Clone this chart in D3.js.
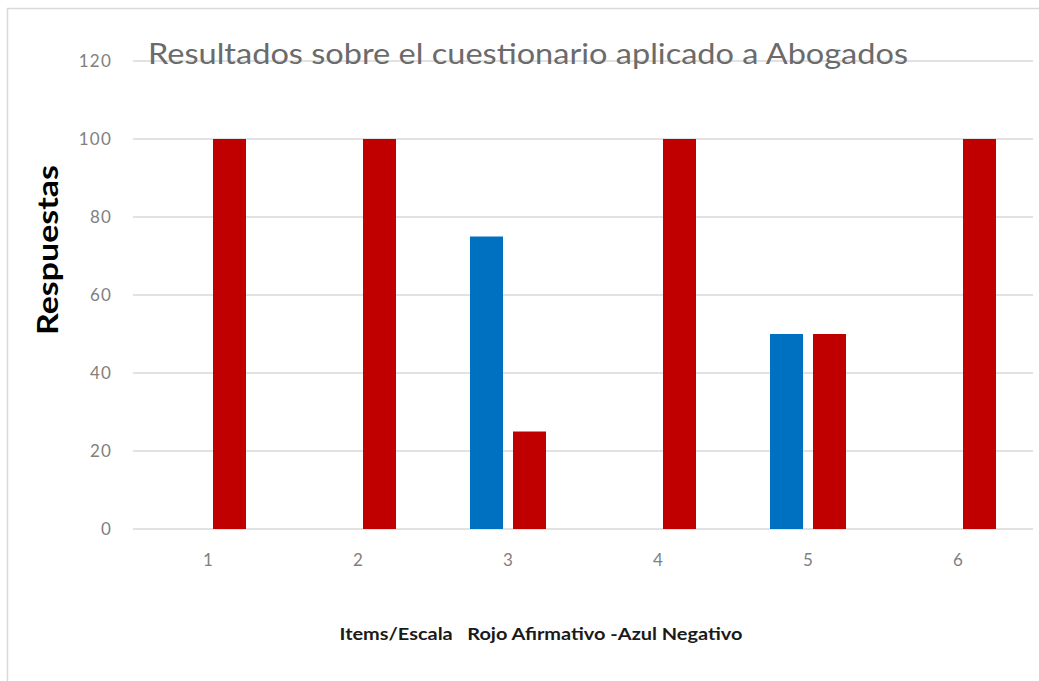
<!DOCTYPE html>
<html><head><meta charset="utf-8">
<script src="https://cdn.jsdelivr.net/npm/d3@7"></script>
<style>body{margin:0;background:#fff;} svg{display:block;}</style>
</head><body>
<svg id="chart" width="1039" height="681"></svg>
<script>
const categories = ["1","2","3","4","5","6"];
const negativoAzul = [0,0,75,0,50,0];
const afirmativoRojo = [100,100,25,100,50,100];
const yTicks = [0,20,40,60,80,100,120];
const titleText = "Resultados sobre el cuestionario aplicado a Abogados";
const yTitle = "Respuestas";
const xTitle = "Items/Escala   Rojo Afirmativo -Azul Negativo";

const svg = d3.select("#chart");
const m = {left:133, right:1033, top:61, bottom:529};

// frame
svg.append("path").attr("d","M7.5,681 V8.5 H1045").attr("fill","none").attr("stroke","#d9d9d9").attr("stroke-width",1.5);

const x = d3.scaleBand().domain(categories).range([m.left,m.right]);
const y = d3.scaleLinear().domain([0,120]).range([m.bottom,m.top]);

// gridlines
svg.append("g").selectAll("line").data(yTicks).join("line")
  .attr("x1",m.left).attr("x2",m.right)
  .attr("y1",d=>y(d)).attr("y2",d=>y(d))
  .attr("stroke","#d9d9d9").attr("stroke-width",1.3);

// y tick labels
const yAxis = d3.axisLeft(y).tickValues(yTicks).tickSize(0).tickPadding(21);
const gy = svg.append("g").attr("transform",`translate(${m.left},0)`).call(yAxis);
gy.select(".domain").remove();
gy.selectAll("text").attr("font-family","Lato, sans-serif").attr("font-size",17).attr("letter-spacing",1.2).attr("fill","#808080");

// x tick labels
const xAxis = d3.axisBottom(x).tickSize(0).tickPadding(25);
const gx = svg.append("g").attr("transform",`translate(0,${m.bottom})`).call(xAxis);
gx.select(".domain").remove();
gx.selectAll("text").attr("font-family","Lato, sans-serif").attr("font-size",17).attr("fill","#808080");

// bars
const bw = 33, gap = 10;
const rows = categories.map((c,i)=>({c, blue:negativoAzul[i], red:afirmativoRojo[i]}));
const cx = c => x(c) + x.bandwidth()/2;
svg.append("g").selectAll("rect").data(rows.filter(d=>d.blue>0)).join("rect")
  .attr("x",d=>cx(d.c)-gap/2-bw).attr("width",bw)
  .attr("y",d=>y(d.blue)).attr("height",d=>y(0)-y(d.blue))
  .attr("fill","#0070c0");
svg.append("g").selectAll("rect").data(rows.filter(d=>d.red>0)).join("rect")
  .attr("x",d=>cx(d.c)+gap/2).attr("width",bw)
  .attr("y",d=>y(d.red)).attr("height",d=>y(0)-y(d.red))
  .attr("fill","#c00000");

// title
svg.append("text").attr("x",148).attr("y",64).text(titleText)
  .attr("textLength",760).attr("lengthAdjust","spacingAndGlyphs")
  .attr("font-family","Lato, sans-serif").attr("font-size",29).attr("fill","#6b6b6b");

// y title
svg.append("text").attr("transform","translate(58,250) rotate(-90)").attr("text-anchor","middle")
  .attr("textLength",170).attr("lengthAdjust","spacingAndGlyphs")
  .text(yTitle).attr("font-family","Lato, sans-serif").attr("font-weight","bold").attr("font-size",28).attr("fill","#000");

// x title
svg.append("text").attr("x",541).attr("y",640).attr("text-anchor","middle").attr("xml:space","preserve")
  .style("white-space","pre")
  .attr("textLength",403).attr("lengthAdjust","spacingAndGlyphs")
  .text(xTitle).attr("font-family","Lato, sans-serif").attr("font-weight","bold").attr("font-size",17).attr("fill","#1a1a1a");
</script>
</body></html>
